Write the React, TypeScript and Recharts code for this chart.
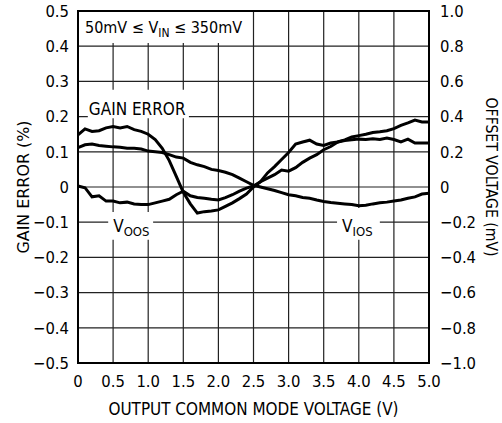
import { CartesianGrid, Line, LineChart, ReferenceArea, XAxis, YAxis } from "recharts";

// output common mode voltage (V)
const VOLTS = [
  0, 0.1, 0.2, 0.3, 0.4, 0.5, 0.6, 0.7, 0.8, 0.9, 1.0, 1.1, 1.2, 1.3, 1.4, 1.5, 1.6, 1.7, 1.8, 1.9, 2.0, 2.1, 2.2, 2.3, 2.4,
  2.5, 2.6, 2.7, 2.8, 2.9, 3.0, 3.1, 3.2, 3.3, 3.4, 3.5, 3.6, 3.7, 3.8, 3.9, 4.0, 4.1, 4.2, 4.3, 4.4, 4.5, 4.6, 4.7, 4.8,
  4.9, 5.0
];

// gain error (%), left axis
const GAIN_ERR = [
  0.148, 0.165, 0.158, 0.16, 0.168, 0.172, 0.168, 0.172, 0.163, 0.158, 0.15, 0.135, 0.11, 0.075, 0.03, -0.015, -0.048,
  -0.074, -0.07, -0.068, -0.065, -0.055, -0.045, -0.033, -0.02, 0.0, 0.015, 0.04, 0.058, 0.078, 0.098, 0.122, 0.128,
  0.133, 0.122, 0.118, 0.125, 0.128, 0.132, 0.134, 0.136, 0.135, 0.137, 0.135, 0.139, 0.135, 0.128, 0.136, 0.125, 0.125,
  0.125
];

// output offset voltage (mV), right axis
const VOOS_MV = [
  0.006, -0.004, -0.056, -0.05, -0.08, -0.08, -0.09, -0.086, -0.096, -0.1, -0.1, -0.09, -0.08, -0.07, -0.044, -0.024,
  -0.05, -0.06, -0.064, -0.07, -0.074, -0.06, -0.044, -0.024, -0.006, 0.006, 0.03, 0.05, 0.07, 0.096, 0.09, 0.11, 0.14,
  0.164, 0.184, 0.212, 0.23, 0.256, 0.268, 0.284, 0.292, 0.3, 0.31, 0.314, 0.32, 0.332, 0.35, 0.364, 0.38, 0.37, 0.37
];

// input offset voltage (mV), right axis
const VIOS_MV = [
  0.224, 0.24, 0.244, 0.236, 0.232, 0.228, 0.226, 0.22, 0.22, 0.216, 0.204, 0.2, 0.196, 0.184, 0.17, 0.164, 0.14, 0.126,
  0.116, 0.1, 0.094, 0.084, 0.07, 0.05, 0.03, 0.01, 0, -0.01, -0.02, -0.032, -0.044, -0.05, -0.06, -0.064, -0.074,
  -0.082, -0.088, -0.092, -0.096, -0.1, -0.106, -0.104, -0.096, -0.09, -0.086, -0.08, -0.074, -0.064, -0.056, -0.04,
  -0.036
];

const X_TICKS = [0, 0.5, 1, 1.5, 2, 2.5, 3, 3.5, 4, 4.5, 5];
const X_LABELS = ["0", "0.5", "1.0", "1.5", "2.0", "2.5", "3.0", "3.5", "4.0", "4.5", "5.0"];
const GAIN_TICKS = [-0.5, -0.4, -0.3, -0.2, -0.1, 0, 0.1, 0.2, 0.3, 0.4, 0.5];
const GAIN_LABELS = ["\u22120.5", "\u22120.4", "\u22120.3", "\u22120.2", "\u22120.1", "0", "0.1", "0.2", "0.3", "0.4", "0.5"];
const OFFSET_TICKS = [-1, -0.8, -0.6, -0.4, -0.2, 0, 0.2, 0.4, 0.6, 0.8, 1];
const OFFSET_LABELS = ["\u22121.0", "\u22120.8", "\u22120.6", "\u22120.4", "\u22120.2", "0", "0.2", "0.4", "0.6", "0.8", "1.0"];

const data = VOLTS.map((v, i) => ({ v, gain: GAIN_ERR[i], voos: VOOS_MV[i], vios: VIOS_MV[i] }));

const FONT = "'DejaVu Sans Condensed', 'Liberation Sans Narrow', sans-serif";
const INK = "#000";

const pick = (ticks: number[], labels: string[]) => (val: number) => {
  const i = ticks.findIndex((t) => Math.abs(t - val) < 1e-9);
  return i >= 0 ? labels[i] : String(val);
};

function SubLabel({ viewBox, main, sub, tail, dx = 5, dy = 21, size = 17 }: any) {
  const { x, y } = viewBox;
  return (
    <text x={x + dx} y={y + dy} fontFamily={FONT} fontSize={size} fill={INK}>
      <tspan>{main}</tspan>
      {sub && (
        <tspan fontSize={size - 4} dy={4}>
          {sub}
        </tspan>
      )}
      {tail && <tspan dy={-4}>{tail}</tspan>}
    </text>
  );
}

function AxisTitle({ viewBox, text, side }: any) {
  const { x, y, width, height } = viewBox;
  const left = side === "left";
  const cx = left ? x + 23 : x + width - 11;
  const cy = left ? y + height / 2 : y + height / 2 - 10;
  return (
    <text
      transform={`translate(${cx},${cy}) rotate(${left ? -90 : 90})`}
      textAnchor="middle"
      dominantBaseline="central"
      fontFamily={FONT}
      fontSize={16}
      textLength={left ? 133 : 159}
      lengthAdjust="spacingAndGlyphs"
      fill={INK}
    >
      {text}
    </text>
  );
}

export default function App() {
  const tickStyle = { fill: INK, fontSize: 16.5, fontFamily: FONT };
  return (
    <div style={{ position: "absolute", left: 0, top: 0, background: "#fff" }}>
      <LineChart width={502} height={423} data={data} margin={{ top: 11, right: 0, left: 0, bottom: 0 }}>
        <CartesianGrid yAxisId="gain" stroke="#222" strokeWidth={1.2} horizontalValues={GAIN_TICKS} verticalValues={X_TICKS} />
        <XAxis
          dataKey="v"
          type="number"
          domain={[0, 5]}
          ticks={X_TICKS}
          tickFormatter={pick(X_TICKS, X_LABELS)}
          axisLine={false}
          tickLine={false}
          tickSize={0}
          tickMargin={12}
          height={60}
          tick={tickStyle}
          interval={0}
          label={{
            content: ({ viewBox }: any) => (
              <text
                x={viewBox.x + viewBox.width / 2}
                y={viewBox.y + 52}
                textAnchor="middle"
                fontFamily={FONT}
                fontSize={17}
                textLength={290}
                lengthAdjust="spacingAndGlyphs"
                fill={INK}
              >
                OUTPUT COMMON MODE VOLTAGE (V)
              </text>
            )
          }}
        />
        <YAxis
          yAxisId="gain"
          orientation="left"
          type="number"
          domain={[-0.5, 0.5]}
          ticks={GAIN_TICKS}
          tickFormatter={pick(GAIN_TICKS, GAIN_LABELS)}
          axisLine={false}
          tickLine={false}
          tickSize={0}
          tickMargin={9}
          width={78}
          tick={tickStyle}
          interval={0}
          label={{ content: (p: any) => <AxisTitle {...p} text="GAIN ERROR (%)" side="left" /> }}
        />
        <YAxis
          yAxisId="offset"
          orientation="right"
          type="number"
          domain={[-1, 1]}
          ticks={OFFSET_TICKS}
          tickFormatter={pick(OFFSET_TICKS, OFFSET_LABELS)}
          axisLine={false}
          tickLine={false}
          tickSize={0}
          tickMargin={11}
          width={73}
          tick={tickStyle}
          interval={0}
          label={{ content: (p: any) => <AxisTitle {...p} text="OFFSET VOLTAGE (mV)" side="right" /> }}
        />
        <ReferenceArea
          yAxisId="gain"
          x1={0}
          x2={2.45}
          y1={0.409}
          y2={0.5}
          fill="#fff"
          fillOpacity={1}
          stroke="none"
          label={{ content: (p: any) => <SubLabel {...p} main="50mV ≤ V" sub="IN" tail=" ≤ 350mV" dx={7} dy={22} size={16} /> }}
        />
        <ReferenceArea
          yAxisId="gain"
          x1={0.14}
          x2={1.58}
          y1={0.195}
          y2={0.276}
          fill="#fff"
          fillOpacity={1}
          stroke="none"
          label={{ content: (p: any) => <SubLabel {...p} main="GAIN ERROR" dx={1} dy={25} /> }}
        />
        <ReferenceArea
          yAxisId="gain"
          x1={0.43}
          x2={1.07}
          y1={-0.15}
          y2={-0.071}
          fill="#fff"
          fillOpacity={1}
          stroke="none"
          label={{ content: (p: any) => <SubLabel {...p} main="V" sub="OOS" dx={5} dy={20} /> }}
        />
        <ReferenceArea
          yAxisId="gain"
          x1={3.69}
          x2={4.3}
          y1={-0.15}
          y2={-0.06}
          fill="#fff"
          fillOpacity={1}
          stroke="none"
          label={{ content: (p: any) => <SubLabel {...p} main="V" sub="IOS" dx={5} dy={24} /> }}
        />
        <ReferenceArea yAxisId="gain" x1={0} x2={5} y1={-0.5} y2={0.5} fill="none" stroke={INK} strokeWidth={2} />
        <Line yAxisId="gain" type="linear" dataKey="gain" stroke={INK} strokeWidth={3} dot={false} isAnimationActive={false} />
        <Line yAxisId="offset" type="linear" dataKey="voos" stroke={INK} strokeWidth={3} dot={false} isAnimationActive={false} />
        <Line yAxisId="offset" type="linear" dataKey="vios" stroke={INK} strokeWidth={3} dot={false} isAnimationActive={false} />
      </LineChart>
    </div>
  );
}
